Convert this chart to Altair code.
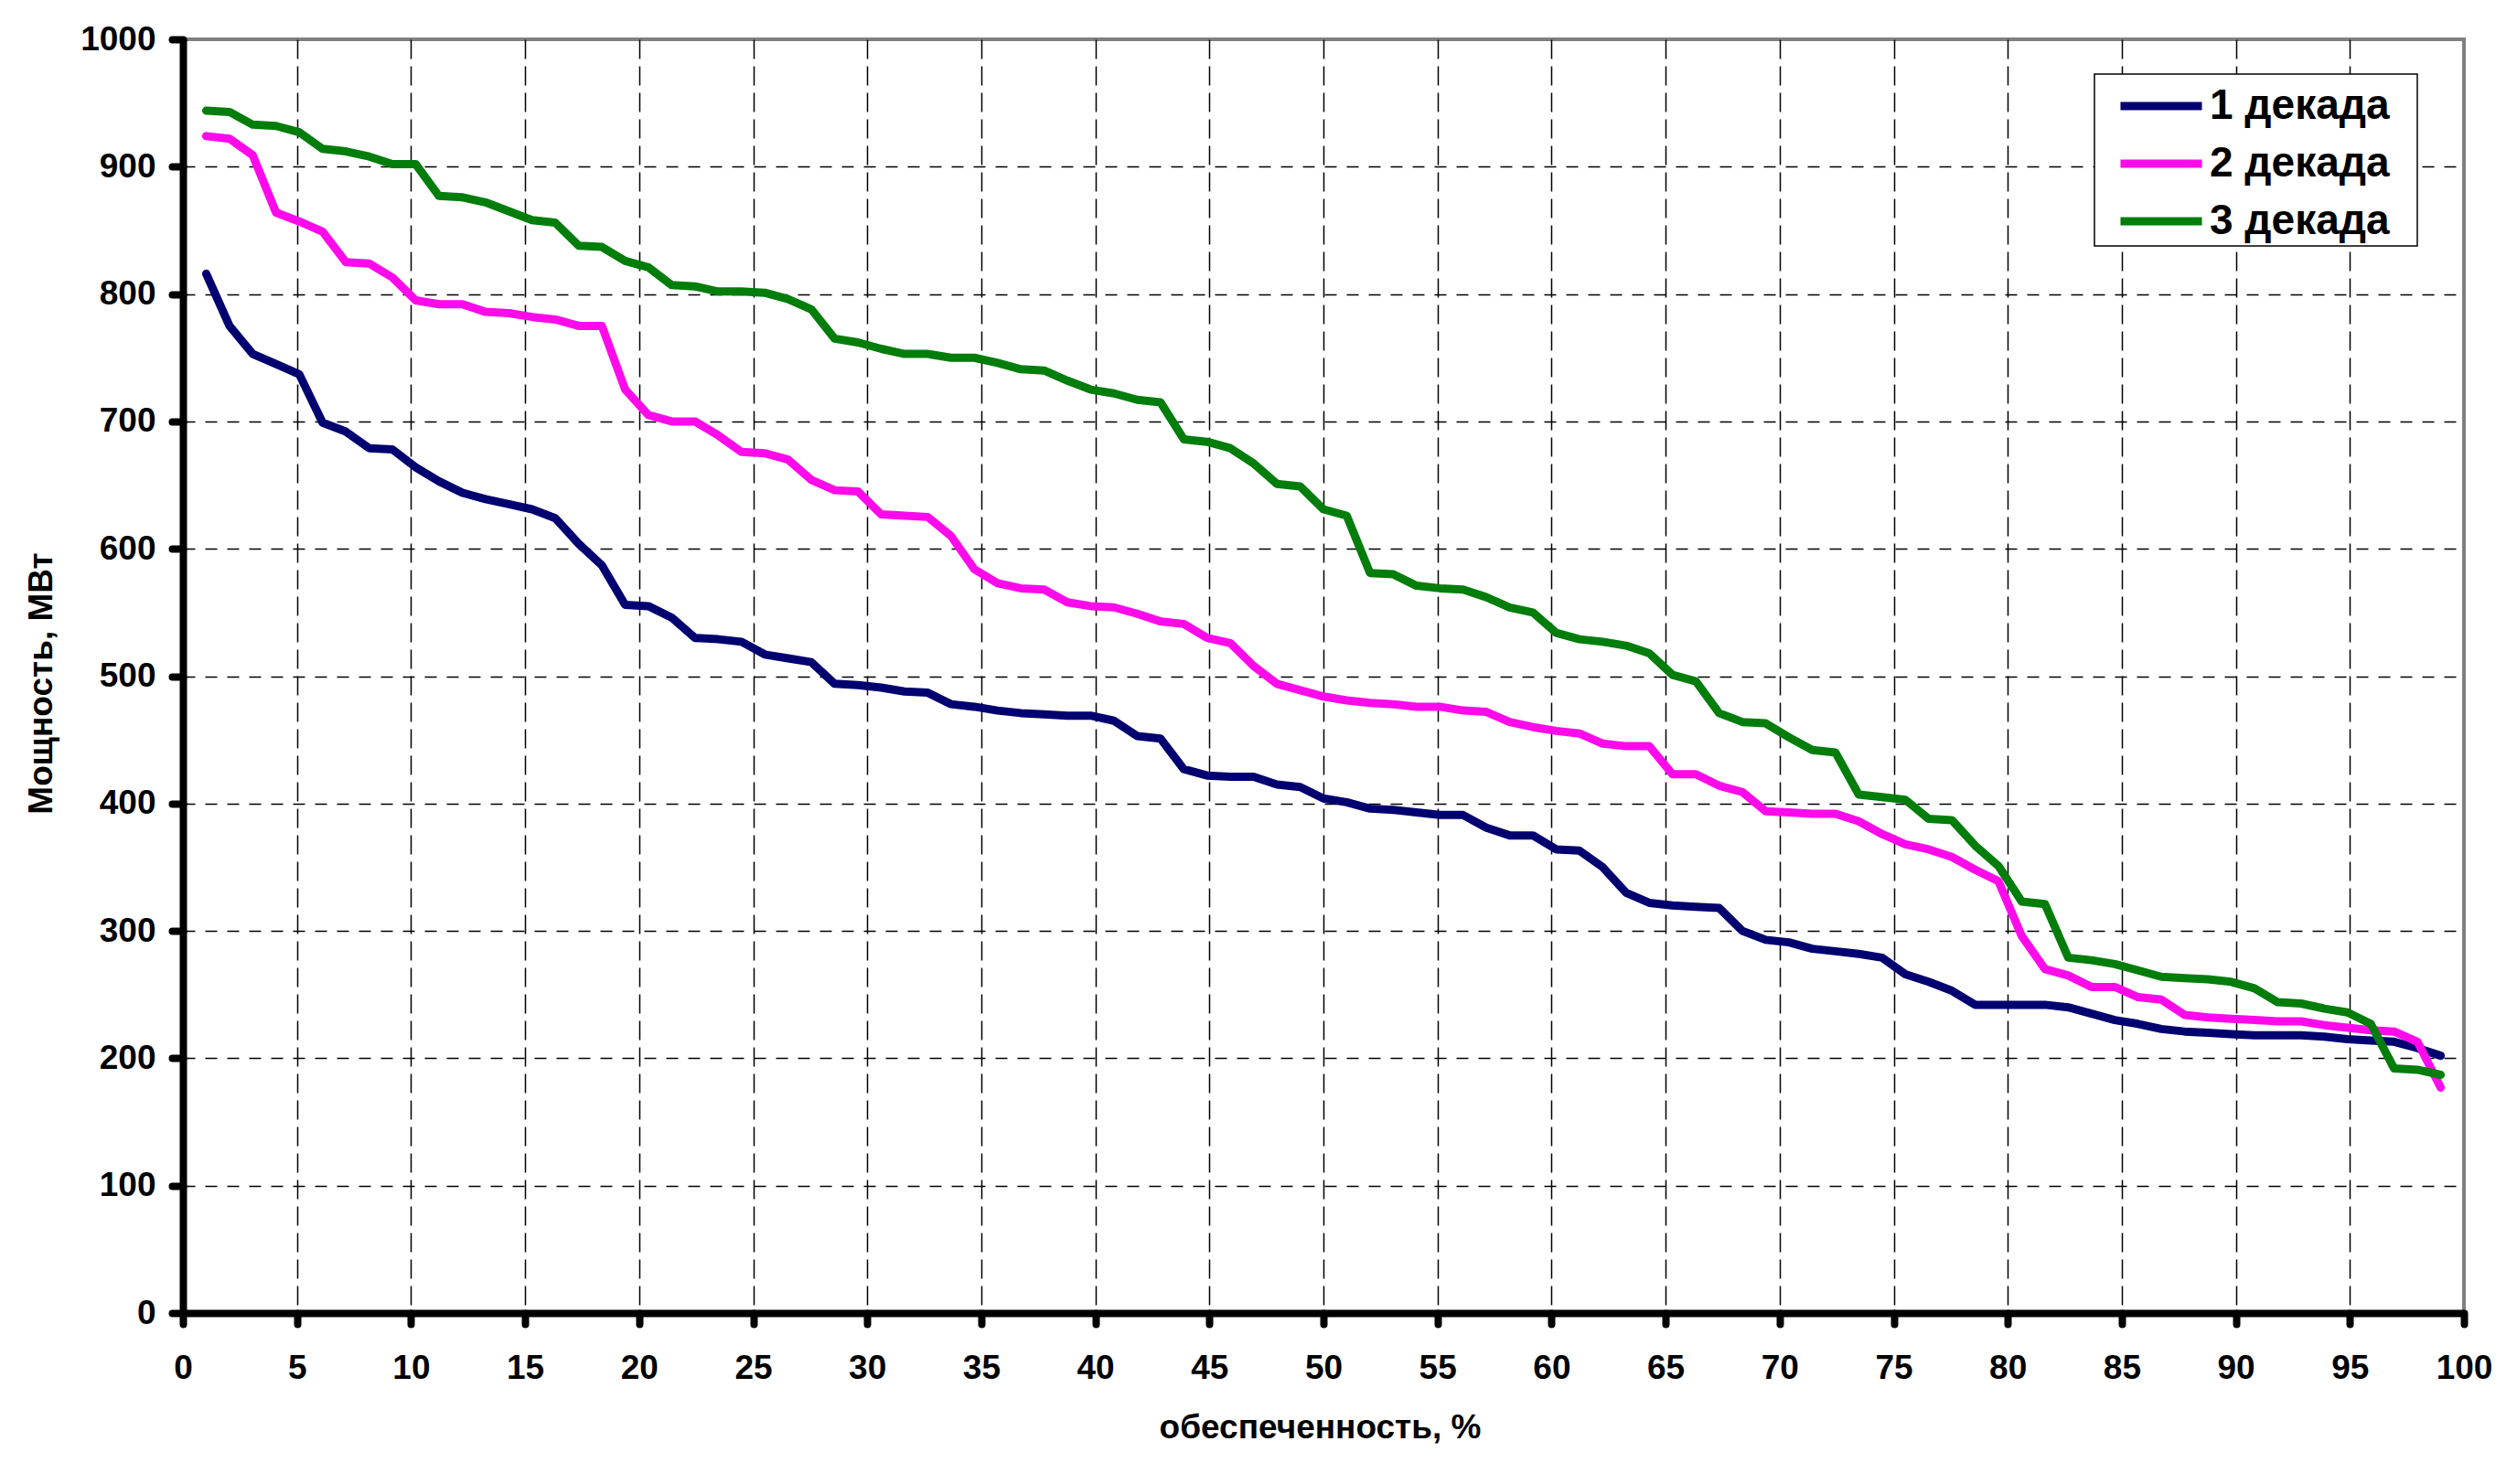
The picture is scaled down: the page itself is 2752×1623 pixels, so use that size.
import altair as alt
import pandas as pd

# ---- data ----
series_names = ["1 декада", "2 декада", "3 декада"]
series_colors = ["#000070", "#FF0AEB", "#007D0A"]

# exceedance probability of the m-th ranked value, p = m/(n+1)*100, n = 97
n_values = 97
obesp = [round(100.0 * m / (n_values + 1), 3) for m in range(1, n_values + 1)]

dek1 = [816, 775, 753, 745, 737, 699, 692, 679, 678, 664,
        653, 644, 639, 635, 631, 624, 604, 587, 556, 555,
        546, 530, 529, 527, 517, 514, 511, 494, 493, 491,
        488, 487, 478, 476, 473, 471, 470, 469, 469, 465,
        453, 451, 427, 422, 421, 421, 415, 413, 404, 401,
        396, 395, 393, 391, 391, 381, 375, 375, 364, 363,
        350, 330, 322, 320, 319, 318, 300, 293, 291, 286,
        284, 282, 279, 266, 260, 253, 242, 242, 242, 242,
        240, 235, 230, 227, 223, 221, 220, 219, 218, 218,
        218, 217, 215, 214, 213, 208, 202]

dek2 = [924, 922, 909, 864, 857, 849, 825, 824, 813, 795,
        792, 792, 786, 785, 782, 780, 775, 775, 725, 705,
        700, 700, 689, 676, 675, 670, 654, 646, 645, 627,
        626, 625, 610, 584, 573, 569, 568, 558, 555, 554,
        549, 543, 541, 530, 526, 508, 494, 489, 484, 481,
        479, 478, 476, 476, 473, 472, 464, 460, 457, 455,
        447, 445, 445, 423, 423, 414, 409, 394, 393, 392,
        392, 386, 376, 368, 364, 358, 348, 339, 296, 270,
        265, 256, 256, 248, 246, 234, 232, 231, 230, 229,
        229, 226, 224, 222, 221, 213, 177]

dek3 = [944, 943, 933, 932, 927, 914, 912, 908, 902, 902,
        877, 876, 872, 865, 858, 856, 838, 837, 826, 821,
        807, 806, 802, 802, 801, 796, 788, 765, 762, 757,
        753, 753, 750, 750, 746, 741, 740, 732, 725, 722,
        717, 715, 686, 684, 679, 667, 651, 649, 631, 626,
        581, 580, 571, 569, 568, 562, 554, 550, 534, 529,
        527, 524, 518, 501, 496, 471, 464, 463, 452, 442,
        440, 407, 405, 403, 388, 387, 367, 351, 323, 321,
        279, 277, 274, 269, 264, 263, 262, 260, 255, 244,
        243, 239, 236, 227, 192, 191, 187]

x_ticks = list(range(0, 101, 5))
y_ticks = list(range(0, 1001, 100))

rows = []
for name, vals in zip(series_names, [dek1, dek2, dek3]):
    for i, (p, v) in enumerate(zip(obesp, vals)):
        rows.append({"p": p, "N": v, "s": name, "k": i})
df = pd.DataFrame(rows)

FONT = "Liberation Sans"

chart = alt.Chart(df).mark_line(
    strokeWidth=9, strokeCap="round", strokeJoin="round"
).encode(
    x=alt.X("p:Q",
            scale=alt.Scale(domain=[0, 100], nice=False, zero=False),
            axis=alt.Axis(values=x_ticks, title="обеспеченность, %", format="d",
                          gridDash=[21, 8], labelPadding=30,
                          labelFlush=False, labelOverlap=False,
                          titleX=1243, titleY=136, titleBaseline="alphabetic",
                          titleAnchor="middle",
                          gridOpacity={"condition": {"test": "datum.value >= 100", "value": 0}, "value": 1})),
    y=alt.Y("N:Q",
            scale=alt.Scale(domain=[0, 1000], nice=False),
            axis=alt.Axis(values=y_ticks, title="Мощность, МВт", format="d",
                          gridDash=[13, 11], labelPadding=18,
                          labelOverlap=False, labelFlush=False,
                          titleX=-144, titleY=704, titleAngle=270,
                          titleAlign="center", titleBaseline="alphabetic",
                          gridOpacity={"condition": {"test": "datum.value >= 1000", "value": 0}, "value": 1})),
    color=alt.Color("s:N",
                    scale=alt.Scale(domain=series_names, range=series_colors),
                    legend=alt.Legend(title=None, orient="none",
                                      legendX=2090, legendY=38,
                                      labelExpr="datum.label + '\u00a0\u00a0\u200b'")),
    order=alt.Order("k:Q"),
).properties(
    width=2494, height=1393,
    autosize=alt.AutoSizeParams(type="none"),
    padding={"left": 192, "top": 35, "right": 50, "bottom": 170},
).configure_view(
    stroke="#808080", strokeWidth=4
).configure_axis(
    domainColor="black", domainWidth=8,
    tickColor="black", tickWidth=8, tickSize=12, tickCap="round",
    gridColor="black", gridWidth=1.5,
    labelFont=FONT, labelFontSize=37, labelFontWeight="bold", labelColor="black",
    titleFont=FONT, titleFontSize=37, titleFontWeight="bold", titleColor="black",
).configure_legend(
    fillColor="white", strokeColor="black", strokeWidth=1.5,
    padding=4, rowPadding=9,
    symbolType="M-1.68,0L1.68,0", symbolSize=2809, symbolStrokeWidth=9,
    symbolOffset=38, labelOffset=22, labelLimit=600,
    labelFont=FONT, labelFontSize=46, labelFontWeight="bold", labelColor="black",
)

chart.save("out.html", embed_options={"renderer": "svg", "actions": False})
